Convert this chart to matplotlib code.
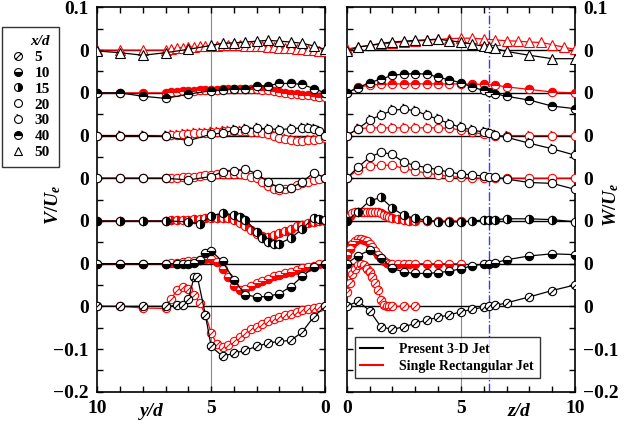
import numpy as np
import matplotlib
matplotlib.use("Agg")
import matplotlib.pyplot as plt
from matplotlib.path import Path
from matplotlib.lines import Line2D

plt.rcParams["font.family"] = "Liberation Serif"
plt.rcParams["font.weight"] = "bold"
plt.rcParams["mathtext.fontset"] = "custom"
plt.rcParams["mathtext.it"] = "Liberation Serif:italic:bold"
plt.rcParams["mathtext.rm"] = "Liberation Serif:bold"

xd_names = ["5", "10", "15", "20", "30", "40", "50"]

# ---- left panel: V/Ue vs y/d (black = present 3-D jet) ----
yd_5 = [10, 9, 8, 7, 6.5, 6.25, 6, 5.75, 5.6, 5.25, 5, 4.5, 4, 3.5, 3, 2.5, 2, 1.5, 1, 0.5, 0]
v_5 = [0, 0, 0, 0, 0.002, 0.002, 0.018, 0.068, 0.068, -0.021, -0.094, -0.117, -0.11, -0.103,
       -0.094, -0.086, -0.082, -0.08, -0.06, -0.025, 0]
yd_10 = [10, 9, 8, 7, 6.5, 6.25, 6, 5.75, 5.5, 5.25, 5, 4.5, 4, 3.5, 3, 2.5, 2, 1.5, 1, 0.5, 0]
v_10 = [0, 0, 0, 0, 0, 0, 0, 0.002, 0.009, 0.024, 0.03, 0.005, -0.038, -0.073, -0.078, -0.077,
        -0.07, -0.054, -0.03, -0.008, 0]
yd_15 = [10, 9, 8, 7, 6, 5.5, 5, 4.5, 4, 3.75, 3.5, 3, 2.75, 2.5, 2.25, 2, 1.5, 1, 0.5, 0.25, 0]
v_15 = [0, 0, 0, 0, -0.002, -0.007, 0.012, 0.018, 0.014, 0.01, 0.003, -0.025, -0.04, -0.049,
        -0.053, -0.053, -0.04, -0.019, 0.008, 0.005, 0.002]
yd_std = [10, 9, 8, 7, 6, 5, 4.5, 4, 3.5, 3, 2.5, 2, 1.5, 1, 0.5, 0]
v_20 = [0, 0, 0, 0, -0.004, 0.004, 0.015, 0.018, 0.021, 0.011, -0.009, -0.023, -0.023, -0.009, 0.013, 0.001]
yd_30 = [10, 9, 8, 7, 6, 5, 4.5, 4, 3.5, 3, 2.5, 2, 1.5, 1, 0.75, 0.5, 0.25, 0]
v_30 = [0, 0, 0, -0.002, -0.012, 0.003, 0.006, 0.012, 0.016, 0.017, 0.016, 0.014, 0.016, 0.018,
        0.018, 0.016, 0.01, 0]
v_40 = [0, 0, -0.008, -0.013, -0.003, 0.005, 0.006, 0.01, 0.008, 0.016, 0.017, 0.022, 0.022, 0.02, 0.01, 0]
v_50 = [-0.002, -0.006, -0.012, -0.006, 0.002, 0.011, 0.016, 0.017, 0.019, 0.021, 0.023, 0.021,
        0.019, 0.016, 0.01, 0.002]

# ---- left panel: single rectangular jet (red) ----
yd_red = [10, 9, 8, 7, 6.75, 6.5, 6.25, 6, 5.75, 5.5, 5.25, 5, 4.75, 4.5, 4.25, 4, 3.75, 3.5,
          3.25, 3, 2.75, 2.5, 2.25, 2, 1.75, 1.5, 1.25, 1, 0.75, 0.5, 0.25, 0]
vr_5 = [0, 0, -0.004, -0.005, 0.018, 0.038, 0.045, 0.04, 0.027, 0.008, -0.02, -0.062, -0.089, -0.095,
        -0.09, -0.082, -0.072, -0.062, -0.054, -0.048, -0.041, -0.035, -0.029, -0.024, -0.021,
        -0.017, -0.013, -0.009, -0.006, -0.004, -0.002, 0]
vr_10 = [0, 0, 0, 0, 0.001, 0.002, 0.004, 0.005, 0.007, 0.009, 0.01, 0.01, 0.003, -0.012, -0.032,
         -0.052, -0.062, -0.06, -0.053, -0.046, -0.04, -0.035, -0.03, -0.026, -0.022, -0.019,
         -0.015, -0.011, -0.008, -0.005, -0.002, 0]
vr_15 = [0, 0, 0, 0, 0.002, 0.003, 0.003, 0.003, 0.004, 0.005, 0.006, 0.007, 0.008, 0.008, 0.006,
         0.002, -0.005, -0.013, -0.022, -0.03, -0.036, -0.037, -0.034, -0.029, -0.023, -0.018,
         -0.013, -0.009, -0.006, -0.003, -0.001, 0]
vr_20 = [0, 0, 0, 0, 0, 0.001, 0.002, 0.003, 0.004, 0.005, 0.007, 0.008, 0.009, 0.01, 0.01, 0.01,
         0.009, 0.008, 0.004, 0, -0.009, -0.018, -0.025, -0.027, -0.026, -0.022, -0.017, -0.012,
         -0.008, -0.005, -0.002, 0]
vr_30 = [0, 0, 0, 0, 0.001, 0.002, 0.003, 0.004, 0.005, 0.006, 0.007, 0.008, 0.009, 0.01, 0.01,
         0.01, 0.01, 0.01, 0.009, 0.008, 0.006, 0.004, 0, -0.005, -0.009, -0.011, -0.012, -0.012,
         -0.011, -0.01, -0.008, -0.005]
vr_40 = [0, 0, 0, 0, 0.002, 0.003, 0.004, 0.005, 0.005, 0.006, 0.006, 0.007, 0.007, 0.008, 0.008,
         0.008, 0.008, 0.008, 0.008, 0.008, 0.007, 0.006, 0.004, 0.002, 0, -0.002, -0.003, -0.005,
         -0.006, -0.008, -0.009, -0.01]
vr_50 = [0, 0, 0, 0, 0.003, 0.005, 0.006, 0.007, 0.008, 0.009, 0.01, 0.01, 0.01, 0.011, 0.011,
         0.011, 0.011, 0.01, 0.01, 0.009, 0.009, 0.008, 0.007, 0.006, 0.005, 0.004, 0.003, 0.002,
         0.001, 0, -0.001, -0.002]

# ---- right panel: W/Ue vs z/d (black) ----
zd_blk = [0, 0.5, 1, 1.5, 2, 2.5, 3, 3.5, 4, 4.5, 5, 5.5, 6, 6.25, 6.5, 7, 8, 9, 10]
w_5 = [0, 0.012, -0.01, -0.048, -0.054, -0.048, -0.04, -0.032, -0.026, -0.02, -0.013, -0.007,
       -0.002, 0, 0.002, 0.008, 0.022, 0.037, 0.05]
w_10 = [0, 0.019, 0.031, 0.013, -0.011, -0.02, -0.023, -0.023, -0.021, -0.018, -0.012, -0.005,
        -0.001, 0, 0.002, 0.009, 0.018, 0.023, 0.021]
w_15 = [0, 0.022, 0.047, 0.055, 0.03, 0.013, 0.006, 0.002, -0.002, -0.002, -0.002, 0, 0.002,
        0.003, 0.003, 0.005, 0.005, 0.003, -0.002]
w_20 = [0, 0.026, 0.049, 0.061, 0.056, 0.037, 0.03, 0.025, 0.02, 0.014, 0.01, 0.008, 0.005,
        0.003, 0.002, -0.002, -0.01, -0.012, -0.026]
w_30 = [0, 0.016, 0.036, 0.048, 0.059, 0.062, 0.058, 0.048, 0.038, 0.028, 0.019, 0.013, 0.008,
        0.005, 0.001, -0.004, -0.018, -0.031, -0.046]
w_40 = [0, 0.012, 0.024, 0.032, 0.041, 0.044, 0.045, 0.044, 0.037, 0.03, 0.024, 0.013, 0.006,
        0.003, -0.002, -0.008, -0.017, -0.031, -0.037]
w_50 = [-0.002, 0.007, 0.011, 0.016, 0.019, 0.021, 0.023, 0.024, 0.026, 0.022, 0.019, 0.014,
        0.009, 0.007, 0.004, -0.003, -0.012, -0.02, -0.02]

# ---- right panel: red ----
zd_r5 = [0, 0.125, 0.25, 0.375, 0.5, 0.625, 0.75, 0.875, 1, 1.125, 1.25, 1.375, 1.5, 1.625,
         1.75, 1.875, 2, 2.5, 3]
wr_5 = [0.034, 0.055, 0.075, 0.088, 0.096, 0.1, 0.096, 0.088, 0.08, 0.068, 0.055, 0.038, 0.015,
        0.003, 0, 0, 0, 0, 0]
zd_r10 = [0, 0.125, 0.25, 0.375, 0.5, 0.625, 0.75, 0.875, 1, 1.125, 1.25, 1.375, 1.5, 1.625,
          1.75, 1.875, 2, 2.25, 2.5, 2.75, 3, 3.5, 4, 4.5, 5]
wr_10 = [0.02, 0.035, 0.047, 0.054, 0.057, 0.058, 0.056, 0.052, 0.046, 0.038, 0.03, 0.02, 0.012,
         0.005, 0.001, 0, 0, 0, 0, 0, 0, 0, 0, 0, 0]
wr_15 = [0.005, 0.012, 0.018, 0.021, 0.022, 0.022, 0.022, 0.022, 0.022, 0.022, 0.021, 0.02, 0.018,
         0.015, 0.012, 0.009, 0.006, 0.004, 0.002, 0.001, 0, 0, 0, 0, 0]
zd_r20 = [0, 0.5, 1, 1.5, 2, 2.5, 3, 3.5, 4, 4.5, 5, 5.5, 6, 6.5, 7, 8, 9, 10]
wr_20 = [0, 0.02, 0.029, 0.031, 0.03, 0.023, 0.017, 0.012, 0.008, 0.004, 0.002, 0, 0, 0, 0, 0, 0, 0]
wr_30 = [0, 0.016, 0.018, 0.018, 0.018, 0.018, 0.018, 0.018, 0.018, 0.017, 0.013, 0.008, 0.003,
         0, 0, 0, 0, 0]
wr_40 = [0, 0.013, 0.018, 0.02, 0.021, 0.021, 0.021, 0.021, 0.021, 0.021, 0.021, 0.02, 0.02,
         0.018, 0.014, 0.008, 0.002, 0]
zd_r50 = [0, 0.5, 1, 1.5, 2, 2.5, 3, 3.5, 4, 4.5, 5, 5.5, 6, 6.5, 7, 7.5, 8, 8.5, 9, 9.5, 10]
wr_50 = [0.002, 0.008, 0.011, 0.014, 0.017, 0.019, 0.021, 0.023, 0.025, 0.027, 0.028, 0.028,
         0.026, 0.024, 0.022, 0.021, 0.019, 0.018, 0.013, 0.007, 0.002]

left_blk = [(yd_5, v_5), (yd_10, v_10), (yd_15, v_15), (yd_std, v_20), (yd_30, v_30),
            (yd_std, v_40), (yd_std, v_50)]
left_red = [vr_5, vr_10, vr_15, vr_20, vr_30, vr_40, vr_50]
right_blk = [w_5, w_10, w_15, w_20, w_30, w_40, w_50]
right_red = [(zd_r5, wr_5), (zd_r10, wr_10), (zd_r10, wr_15), (zd_r20, wr_20), (zd_r20, wr_30),
             (zd_r20, wr_40), (zd_r50, wr_50)]

# marker shapes
circ = Path.unit_circle()
m_slash = Path.make_compound_path(circ, Path([(-0.7, -0.7), (0.7, 0.7)], [Path.MOVETO, Path.LINETO]))
m_tail = Path.make_compound_path(circ, Path([(-0.1, 1.0), (-0.45, 1.35)], [Path.MOVETO, Path.LINETO]))
ms = 6
mk = [
    dict(marker=m_slash, fillstyle="full", half=False, ms=ms),
    dict(marker="o", fillstyle="bottom", half=True, ms=ms),
    dict(marker="o", fillstyle="right", half=True, ms=ms),
    dict(marker="o", fillstyle="full", half=False, ms=ms),
    dict(marker=m_tail, fillstyle="full", half=False, ms=ms * 1.35),
    dict(marker="o", fillstyle="top", half=True, ms=ms),
    dict(marker="^", fillstyle="full", half=False, ms=ms + 0.5),
]


def draw(ax, x, y, off, color, st, z, lw=0.9):
    ax.plot(x, np.array(y) + off, color=color, lw=lw, marker=st["marker"],
            fillstyle=st["fillstyle"], ms=st["ms"], mew=0.8, mec=color,
            mfc=color if st["half"] else "white", markerfacecoloralt="white", zorder=z)


fig = plt.figure(figsize=(6.25, 4.26), dpi=100)
axL = fig.add_axes([0.1557, 0.0805, 0.3643, 0.902])
axR = fig.add_axes([0.5547, 0.0805, 0.3653, 0.902])

for k in range(7):
    off = 0.1 * k
    for ax in (axL, axR):
        ax.axhline(off, color="black", lw=1.0, zorder=1)
    draw(axL, yd_red, left_red[k], off, "red", mk[k], 3)
    draw(axL, left_blk[k][0], left_blk[k][1], off, "black", mk[k], 4)
    draw(axR, right_red[k][0], right_red[k][1], off, "red", mk[k], 3)
    draw(axR, zd_blk, right_blk[k], off, "black", mk[k], 4)

axL.axvline(5, color="#888888", lw=0.8, zorder=0)
axR.axvline(5, color="#888888", lw=0.8, zorder=0)
axR.axvline(6.25, color="#3a3aff", lw=1.0, ls="-.", zorder=0)

ylabels = ["\u22120.2", "\u22120.1", "0", "0", "0", "0", "0", "0", "0", "0.1"]
yt = [-0.2, -0.1, 0, 0.1, 0.2, 0.3, 0.4, 0.5, 0.6, 0.7]
for ax in (axL, axR):
    ax.set_ylim(-0.2, 0.7)
    ax.set_yticks(yt)
    ax.set_yticklabels(ylabels)
    ax.set_yticks([t + 0.05 for t in yt[:-1]], minor=True)
    ax.set_xticks(range(11))
    ax.tick_params(which="both", direction="in", top=True, right=True, length=4, width=1,
                   labelsize=14, pad=6)
    for s in ax.spines.values():
        s.set_linewidth(1.2)

axL.set_xlim(10, 0)
axL.set_xticklabels(["0", "", "", "", "", "5", "", "", "", "", "10"])
axR.set_xlim(0, 10)
axR.set_xticklabels(["0", "", "", "", "", "5", "", "", "", "", "10"])
axR.tick_params(labelleft=False, labelright=True)

axL.text(7.6, -0.247, "y/d", style="italic", fontsize=14, ha="center", va="center")
axR.text(7.55, -0.247, "z/d", style="italic", fontsize=14, ha="center", va="center")
fig.text(0.085, 0.52, r"$V/U_e$", rotation=90, fontsize=14, ha="center", va="center")
fig.text(0.978, 0.52, r"$W/U_e$", rotation=90, fontsize=14, ha="center", va="center")

# x/d legend
handles = []
for k in range(7):
    st = mk[k]
    handles.append(Line2D([], [], ls="none", marker=st["marker"], fillstyle=st["fillstyle"],
                          ms=st["ms"] * 0.95, mew=0.8, mec="black",
                          mfc="black" if st["half"] else "white", markerfacecoloralt="white"))
lg = fig.legend(handles, xd_names, loc="upper left", bbox_to_anchor=(0.003, 0.937),
                title="x/d", fontsize=11, frameon=True, fancybox=False, edgecolor="black",
                handlelength=1.0, handletextpad=0.6, labelspacing=0.14, borderpad=0.55,
                borderaxespad=0)
lg.get_title().set_fontstyle("italic")
lg.get_title().set_fontweight("bold")
lg.get_title().set_fontsize(11)
lg._legend_box.align = "right"
lg.get_frame().set_linewidth(1.0)

lg2 = axR.legend([Line2D([], [], color="black", lw=1.5), Line2D([], [], color="red", lw=1.5)],
                 ["Present 3-D Jet", "Single Rectangular Jet"], loc="lower left",
                 bbox_to_anchor=(0.036, 0.035), borderaxespad=0, fontsize=10, fancybox=False,
                 edgecolor="black", handlelength=1.6, handletextpad=1.2, labelspacing=0.3,
                 borderpad=0.4)
lg2.get_frame().set_linewidth(1.0)

fig.savefig("out.png", dpi=100)
